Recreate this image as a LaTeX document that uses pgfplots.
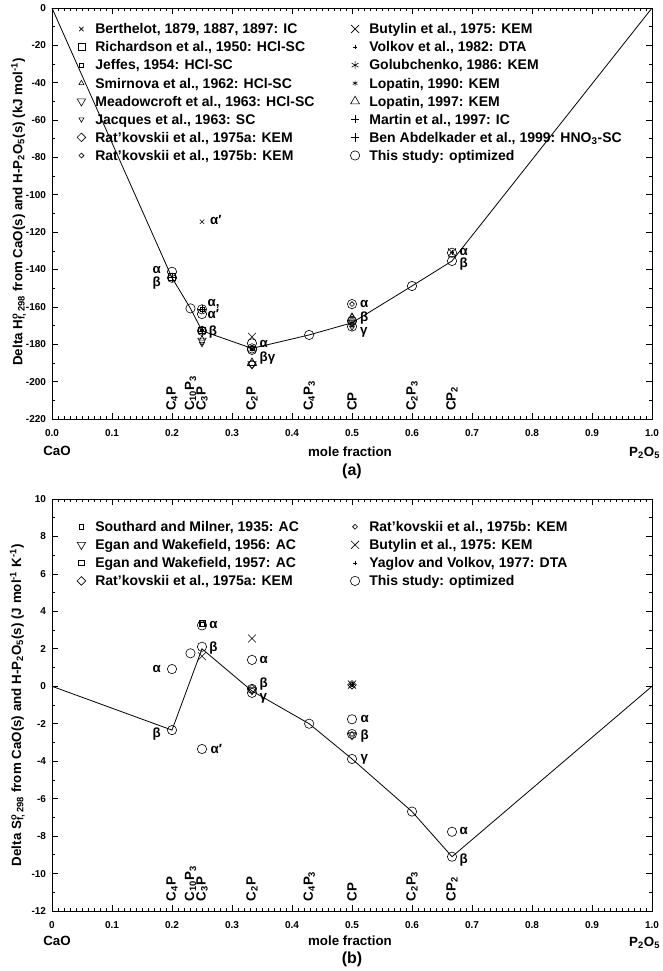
\documentclass[border=0pt]{standalone}
\usepackage{fontspec}
\setmainfont{Liberation Sans}
\usepackage{pgfplots}
\pgfplotsset{compat=1.18}
\pgfplotsset{
  panel/.style={
    scale only axis, width=450pt,
    xmin=0, xmax=1,
    xtick={0,0.1,0.2,0.3,0.4,0.5,0.6,0.7,0.8,0.9,1},
    minor x tick num=9, minor y tick num=1,
    major tick length=4.5pt, minor tick length=2.5pt,
    tick style={black, line width=0.5pt},
    axis line style={line width=0.6pt},
    /pgf/number format/assume math mode=true,
    tick label style={font=\bfseries\fontsize{7.5}{9}\selectfont},
    xticklabel style={yshift=-4pt},
    yticklabel style={xshift=-1pt},
    legend columns=2,
    legend cell align=left,
    legend style={draw=none, fill=none, inner sep=0pt, outer sep=0pt, anchor=north west,
      font=\bfseries\fontsize{10.5}{12}\selectfont,
      nodes={inner sep=0pt, text height=8pt, text depth=0.8pt},
      row sep=4.75pt,
      /tikz/every odd column/.style={column sep=7.2pt},
      /tikz/every even column/.style={column sep=0pt}},
    clip=false,
  },
  mk/.style={only marks, black, mark options={solid, line width=0.45pt}},
  mBert/.style={mk, mark=x, mark size=2.3pt},
  mRich/.style={mk, mark=square, mark size=2.6pt},
  mJeff/.style={mk, mark=square, mark size=1.6pt},
  mSmir/.style={mk, mark=triangle, mark size=2.2pt},
  mMead/.style={only marks, black, mark=triangle, mark size=3.6pt, mark options={solid, line width=0.45pt, rotate=180}},
  mJacq/.style={only marks, black, mark=triangle, mark size=2.2pt, mark options={solid, line width=0.45pt, rotate=180}},
  mRatA/.style={only marks, black, mark=square, mark size=2.3pt, mark options={solid, line width=0.45pt, rotate=45}},
  mRatB/.style={only marks, black, mark=square, mark size=1.3pt, mark options={solid, line width=0.45pt, rotate=45}},
  mButy/.style={mk, mark=x, mark size=4.2pt},
  mVolk/.style={mk, mark=+, mark size=1.7pt},
  mGolu/.style={mk, mark=asterisk, mark size=3pt},
  mLopa/.style={mk, mark=asterisk, mark size=2pt},
  mLopb/.style={mk, mark=triangle, mark size=3.8pt},
  mMart/.style={mk, mark=+, mark size=3pt},
  mBen/.style={mk, mark=+, mark size=3.3pt},
  mThis/.style={mk, mark=o, mark size=3.5pt},
}
\tikzset{
  lbl/.style={font=\bfseries\fontsize{10}{12}\selectfont, inner sep=0pt},
  cmp/.style={font=\bfseries\fontsize{10}{12}\selectfont, rotate=90, anchor=west, inner sep=0pt},
  txt/.style={font=\bfseries\fontsize{10}{12}\selectfont},
}
\begin{document}
\begin{tikzpicture}
\path[use as bounding box] (0pt,0pt) rectangle (496.5pt,-728.25pt);
% ---------------- panel (a) ----------------
\begin{axis}[panel, at={(39pt,-314.25pt)}, anchor=south west, height=308.25pt,
  ymin=-220, ymax=0, ytick={-220,-200,...,0},
  xticklabels={0.0,0.1,0.2,0.3,0.4,0.5,0.6,0.7,0.8,0.9,1.0},
  legend style={at={(axis description cs:0.0418,0.9632)}}]
\addplot[black, line width=0.6pt, forget plot] coordinates {(0,0) (0.2,-144.4) (0.2308,-160.8) (0.25,-172.8) (0.3333,-182.2) (0.4286,-175) (0.5,-168.5) (0.6,-148.8) (0.6667,-135.4) (1,0)};
\addplot[mBert] coordinates {(0.25,-114.4)};
\addlegendentry{\makebox[191.3pt][l]{Berthelot, 1879, 1887, 1897: IC}}
\addplot[mButy] coordinates {(0.3333,-176) (0.6667,-130.8)};
\addlegendentry{Butylin et al., 1975: KEM}
\addplot[mRich] coordinates {(0.2,-144) (0.25,-172.5)};
\addlegendentry{\makebox[191.3pt][l]{Richardson et al., 1950: HCl-SC}}
\addplot[mVolk] coordinates {(0.6667,-131) (0.25,-172.5)};
\addlegendentry{Volkov et al., 1982: DTA}
\addplot[mJeff] coordinates {(0.25,-161.3) (0.3333,-182)};
\addlegendentry{\makebox[191.3pt][l]{Jeffes, 1954: HCl-SC}}
\addplot[mGolu] coordinates {(0.25,-172.5) (0.5,-168.5)};
\addlegendentry{Golubchenko, 1986: KEM}
\addplot[mSmir] coordinates {(0.25,-177) (0.5,-165)};
\addlegendentry{\makebox[191.3pt][l]{Smirnova et al., 1962: HCl-SC}}
\addplot[mLopa] coordinates {(0.3333,-182.5) (0.5,-170)};
\addlegendentry{Lopatin, 1990: KEM}
\addplot[mMead] coordinates {(0.25,-178) (0.3333,-190.6)};
\addlegendentry{\makebox[191.3pt][l]{Meadowcroft et al., 1963: HCl-SC}}
\addplot[mLopb] coordinates {(0.3333,-190) (0.5,-166)};
\addlegendentry{Lopatin, 1997: KEM}
\addplot[mJacq] coordinates {(0.25,-179.8) (0.5,-171)};
\addlegendentry{\makebox[191.3pt][l]{Jacques et al., 1963: SC}}
\addplot[mMart] coordinates {(0.2,-144.4) (0.25,-161.3)};
\addlegendentry{Martin et al., 1997: IC}
\addplot[mRatA] coordinates {(0.3333,-190.6) (0.5,-168)};
\addlegendentry{\makebox[191.3pt][l]{Rat'kovskii et al., 1975a: KEM}}
\addplot[mBen] coordinates {(0.25,-172.8)};
\addlegendentry{Ben Abdelkader et al., 1999: HNO\textsubscript{3}-SC}
\addplot[mRatB] coordinates {(0.5,-158.5) (0.3333,-182)};
\addlegendentry{\makebox[191.3pt][l]{Rat'kovskii et al., 1975b: KEM}}
\addplot[mThis] coordinates {(0.2,-141.2) (0.2,-144.4) (0.2308,-160.8) (0.25,-161.3) (0.25,-163.8) (0.25,-172.8) (0.3333,-179.5) (0.3333,-182.2) (0.3333,-183) (0.4286,-175) (0.5,-158.5) (0.5,-167.5) (0.5,-170.5) (0.6,-148.8) (0.6667,-131) (0.6667,-135.4)};
\addlegendentry{This study: optimized}
% phase labels
\node[lbl] at (axis cs:0.1745,-140.2) {α};
\node[lbl] at (axis cs:0.1745,-147.4) {β};
\node[lbl, anchor=west] at (axis cs:0.263,-113.5) {α′};
\node[lbl, anchor=west] at (axis cs:0.259,-158.5) {α,};
\node[lbl, anchor=west] at (axis cs:0.259,-164) {α′};
\node[lbl, anchor=west] at (axis cs:0.261,-173.5) {β};
\node[lbl, anchor=west] at (axis cs:0.3456,-180) {α};
\node[lbl, anchor=west] at (axis cs:0.3456,-187.5) {βγ};
\node[lbl, anchor=west] at (axis cs:0.513,-158.5) {α};
\node[lbl, anchor=west] at (axis cs:0.513,-166) {β};
\node[lbl, anchor=west] at (axis cs:0.513,-173.4) {γ};
\node[lbl, anchor=west] at (axis cs:0.679,-130.6) {α};
\node[lbl, anchor=west] at (axis cs:0.679,-136.8) {β};
% compounds
\node[cmp] at (axis cs:0.2,-215.8) {C\textsubscript{4}P};
\node[cmp] at (axis cs:0.2308,-215.8) {C\textsubscript{10}P\textsubscript{3}};
\node[cmp] at (axis cs:0.25,-215.8) {C\textsubscript{3}P};
\node[cmp] at (axis cs:0.3333,-215.8) {C\textsubscript{2}P};
\node[cmp] at (axis cs:0.4286,-215.8) {C\textsubscript{4}P\textsubscript{3}};
\node[cmp] at (axis cs:0.5,-215.8) {CP};
\node[cmp] at (axis cs:0.6,-215.8) {C\textsubscript{2}P\textsubscript{3}};
\node[cmp] at (axis cs:0.6667,-215.8) {CP\textsubscript{2}};
\end{axis}
\node[txt, rotate=90] at (14pt,-159pt) {Delta H\rlap{\textsuperscript{o}}\textsubscript{f, 298} from CaO(s) and H-P\textsubscript{2}O\textsubscript{5}(s) (kJ mol\textsuperscript{-1})};
\node[txt] at (42.75pt,-338.5pt) {CaO};
\node[txt] at (262.5pt,-338.5pt) {mole fraction};
\node[txt] at (483.5pt,-340pt) {P\textsubscript{2}O\textsubscript{5}};
\node[font=\bfseries\fontsize{12}{14}\selectfont] at (264pt,-353.25pt) {(a)};
% ---------------- panel (b) ----------------
\begin{axis}[panel, at={(39pt,-683.25pt)}, anchor=south west, height=309pt,
  ymin=-12, ymax=10, ytick={-12,-10,...,10},
  xticklabels={0,0.1,0.2,0.3,0.4,0.5,0.6,0.7,0.8,0.9,1.0},
  legend style={at={(axis description cs:0.0418,0.947)}}]
\addplot[black, line width=0.6pt, forget plot] coordinates {(0,0) (0.2,-2.34) (0.25,2.0) (0.3333,-0.25) (0.4286,-2.0) (0.5,-3.88) (0.6,-6.69) (0.6667,-9.1) (1,0)};
\addplot[mJeff] coordinates {(0.25,3.3)};
\addlegendentry{\makebox[191.3pt][l]{Southard and Milner, 1935: AC}}
\addplot[mRatB] coordinates {(0.5,0.1) (0.5,-2.55)};
\addlegendentry{Rat'kovskii et al., 1975b: KEM}
\addplot[mMead] coordinates {(0.3333,-0.2) (0.5,-2.6)};
\addlegendentry{\makebox[191.3pt][l]{Egan and Wakefield, 1956: AC}}
\addplot[mButy] coordinates {(0.3333,2.55) (0.25,1.6) (0.5,0.09)};
\addlegendentry{Butylin et al., 1975: KEM}
\addplot[mk, mark=square, mark size=2.2pt] coordinates {(0.25,3.35)};
\addlegendentry{\makebox[191.3pt][l]{Egan and Wakefield, 1957: AC}}
\addplot[mVolk] coordinates {(0.5,0.09)};
\addlegendentry{Yaglov and Volkov, 1977: DTA}
\addplot[mRatA] coordinates {(0.3333,-0.14) (0.5,0.08)};
\addlegendentry{\makebox[191.3pt][l]{Rat'kovskii et al., 1975a: KEM}}
\addplot[mThis] coordinates {(0.2,0.92) (0.2,-2.34) (0.2308,1.76) (0.25,3.25) (0.25,2.11) (0.25,-3.35) (0.3333,1.41) (0.3333,-0.14) (0.3333,-0.35) (0.4286,-2.0) (0.5,-1.76) (0.5,-2.55) (0.5,-3.88) (0.6,-6.69) (0.6667,-7.77) (0.6667,-9.1)};
\addlegendentry{This study: optimized}
\node[lbl] at (axis cs:0.1745,0.92) {α};
\node[lbl] at (axis cs:0.1745,-2.55) {β};
\node[lbl, anchor=west] at (axis cs:0.262,3.3) {α};
\node[lbl, anchor=west] at (axis cs:0.262,2.06) {β};
\node[lbl, anchor=west] at (axis cs:0.264,-3.35) {α′};
\node[lbl, anchor=west] at (axis cs:0.3456,1.41) {α};
\node[lbl, anchor=west] at (axis cs:0.3456,0.12) {β};
\node[lbl, anchor=west] at (axis cs:0.3456,-0.62) {γ};
\node[lbl, anchor=west] at (axis cs:0.514,-1.73) {α};
\node[lbl, anchor=west] at (axis cs:0.514,-2.64) {β};
\node[lbl, anchor=west] at (axis cs:0.514,-3.88) {γ};
\node[lbl, anchor=west] at (axis cs:0.679,-7.75) {α};
\node[lbl, anchor=west] at (axis cs:0.679,-9.3) {β};
\node[cmp] at (axis cs:0.2,-11.5) {C\textsubscript{4}P};
\node[cmp] at (axis cs:0.2308,-11.5) {C\textsubscript{10}P\textsubscript{3}};
\node[cmp] at (axis cs:0.25,-11.5) {C\textsubscript{3}P};
\node[cmp] at (axis cs:0.3333,-11.5) {C\textsubscript{2}P};
\node[cmp] at (axis cs:0.4286,-11.5) {C\textsubscript{4}P\textsubscript{3}};
\node[cmp] at (axis cs:0.5,-11.5) {CP};
\node[cmp] at (axis cs:0.6,-11.5) {C\textsubscript{2}P\textsubscript{3}};
\node[cmp] at (axis cs:0.6667,-11.5) {CP\textsubscript{2}};
\end{axis}
\node[txt, rotate=90] at (13pt,-529pt) {Delta S\rlap{\textsuperscript{o}}\textsubscript{f, 298} from CaO(s) and H-P\textsubscript{2}O\textsubscript{5}(s) (J mol\textsuperscript{-1} K\textsuperscript{-1})};
\node[txt] at (42.75pt,-705.75pt) {CaO};
\node[txt] at (262.5pt,-705.75pt) {mole fraction};
\node[txt] at (483.5pt,-707pt) {P\textsubscript{2}O\textsubscript{5}};
\node[font=\bfseries\fontsize{12}{14}\selectfont] at (264pt,-719.25pt) {(b)};
\end{tikzpicture}
\end{document}
